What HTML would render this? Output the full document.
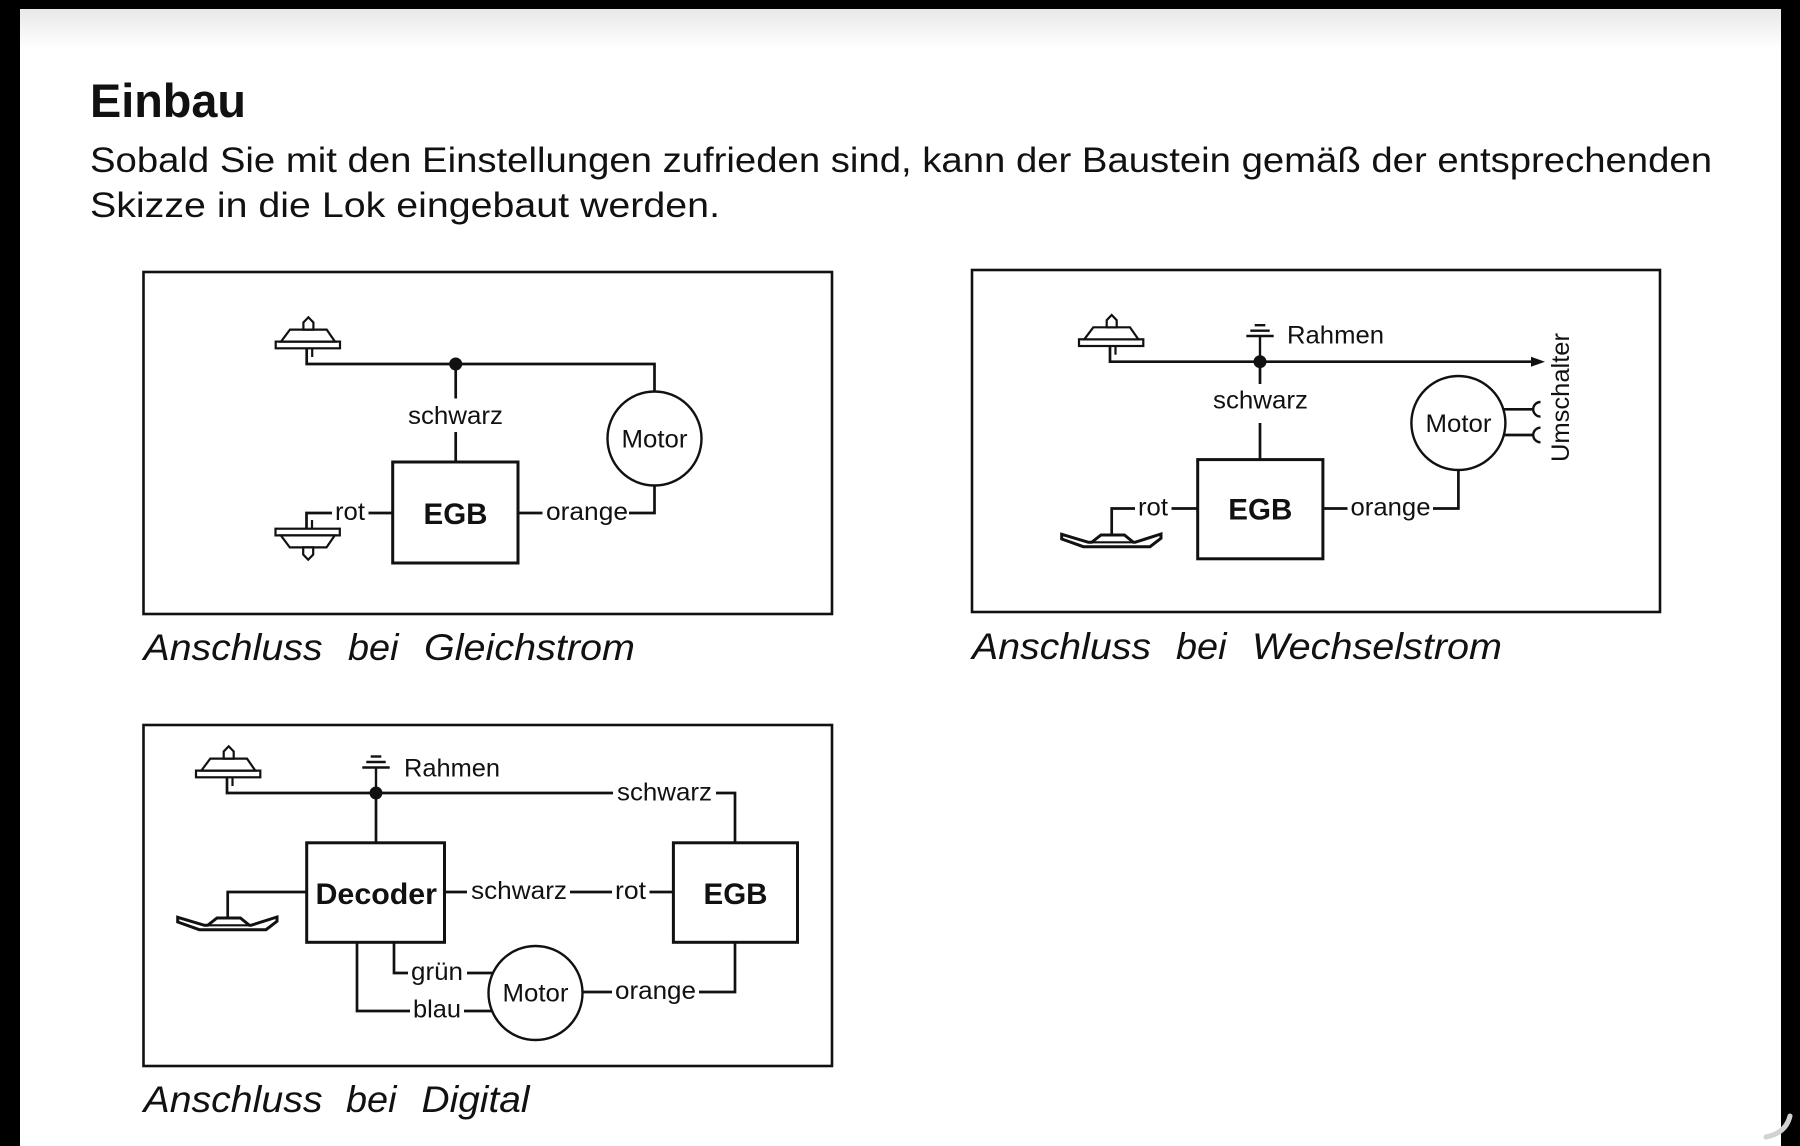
<!DOCTYPE html>
<html><head><meta charset="utf-8"><title>Einbau</title><style>
html,body{margin:0;padding:0;background:#000;}
svg{display:block;}
text{font-family:"Liberation Sans",Arial,sans-serif;fill:#111;}
.w{fill:none;stroke:#111;stroke-width:2.7;stroke-linejoin:miter;}
.b{fill:none;stroke:#111;stroke-width:3;}
.s{fill:#fff;stroke:#111;stroke-width:2.2;stroke-linejoin:miter;}
.k{fill:#fff;stroke:#111;stroke-width:3;stroke-linejoin:miter;}
.l{font-size:25px;}
.bold{font-size:30px;font-weight:bold;}
.cap{font-size:37px;font-style:italic;}
</style></head><body>
<svg width="1800" height="1146" viewBox="0 0 1800 1146" xmlns="http://www.w3.org/2000/svg">
<defs>
<linearGradient id="g" x1="0" y1="0" x2="0" y2="1"><stop offset="0" stop-color="#e8e8e8"/><stop offset="1" stop-color="#ffffff"/></linearGradient>
</defs>
<rect width="1800" height="1146" fill="#000"/>
<rect x="20" y="9" width="1761" height="1137" fill="#fff"/>
<rect x="20" y="9" width="1761" height="40" fill="url(#g)"/>
<path d="M1766,1137 Q1786,1133 1790,1116" fill="none" stroke="#d2d2d2" stroke-width="5" stroke-linecap="round"/>

<!-- Header -->
<text x="90" y="117" font-size="47" font-weight="bold" textLength="156" lengthAdjust="spacingAndGlyphs">Einbau</text>
<text x="90" y="172" font-size="35" textLength="1622" lengthAdjust="spacingAndGlyphs">Sobald Sie mit den Einstellungen zufrieden sind, kann der Baustein gemäß der entsprechenden</text>
<text x="90" y="217" font-size="35" textLength="630" lengthAdjust="spacingAndGlyphs">Skizze in die Lok eingebaut werden.</text>

<!-- ============ Frame 1: Gleichstrom ============ -->
<rect x="143.5" y="272" width="688.5" height="342" fill="none" stroke="#111" stroke-width="2.6"/>
<g transform="translate(306.7,364)">
  <rect class="s" x="-31" y="-22.4" width="64.3" height="6.7"/>
  <polygon class="s" points="-25.7,-22.4 -16.7,-34.4 20,-34.4 28.3,-22.4"/>
  <polygon class="s" points="-3.3,-34.4 -3.3,-41.5 1.7,-46.7 6.7,-41.5 6.7,-34.4" stroke-width="2"/>
  <line x1="5.5" y1="-15.7" x2="5.5" y2="-7" stroke="#111" stroke-width="2.2"/>
</g>
<path class="w" d="M306.7,348 V364 H654.5 V391.5"/>
<circle cx="455.7" cy="364" r="6.5" fill="#111"/>
<path class="w" d="M455.7,364 V398.5 M455.7,432 V462"/>
<text class="l" x="408" y="424" textLength="95" lengthAdjust="spacingAndGlyphs">schwarz</text>
<rect class="b" x="392.7" y="462" width="125.3" height="101"/>
<text class="bold" x="423.5" y="524" textLength="64" lengthAdjust="spacingAndGlyphs">EGB</text>
<g transform="translate(306.5,513) scale(1,-1)">
  <rect class="s" x="-31" y="-22.4" width="64.3" height="6.7"/>
  <polygon class="s" points="-25.7,-22.4 -16.7,-34.4 20,-34.4 28.3,-22.4"/>
  <polygon class="s" points="-3.3,-34.4 -3.3,-41.5 1.7,-46.7 6.7,-41.5 6.7,-34.4" stroke-width="2"/>
  <line x1="5.5" y1="-15.7" x2="5.5" y2="-7" stroke="#111" stroke-width="2.2"/>
</g>
<path class="w" d="M306.5,529 V513 H332 M368.5,513 H392.7"/>
<text class="l" x="335" y="520" textLength="30" lengthAdjust="spacingAndGlyphs">rot</text>
<path class="w" d="M518,513 H542.5 M629,513 H654.5 V485.5"/>
<text class="l" x="546" y="520" textLength="82" lengthAdjust="spacingAndGlyphs">orange</text>
<circle cx="654.5" cy="438.5" r="47" fill="#fff" stroke="#111" stroke-width="2.4"/>
<text class="l" x="621.5" y="447.5" textLength="66" lengthAdjust="spacingAndGlyphs">Motor</text>

<text class="cap" x="143.5" y="660" textLength="179" lengthAdjust="spacingAndGlyphs">Anschluss</text>
<text class="cap" x="348" y="660" textLength="50.5" lengthAdjust="spacingAndGlyphs">bei</text>
<text class="cap" x="424" y="660" textLength="211" lengthAdjust="spacingAndGlyphs">Gleichstrom</text>

<!-- ============ Frame 2: Wechselstrom ============ -->
<rect x="972" y="270" width="688" height="342" fill="none" stroke="#111" stroke-width="2.6"/>
<g transform="translate(1110,361.7)">
  <rect class="s" x="-31" y="-22.4" width="64.3" height="6.7"/>
  <polygon class="s" points="-25.7,-22.4 -16.7,-34.4 20,-34.4 28.3,-22.4"/>
  <polygon class="s" points="-3.3,-34.4 -3.3,-41.5 1.7,-46.7 6.7,-41.5 6.7,-34.4" stroke-width="2"/>
  <line x1="5.5" y1="-15.7" x2="5.5" y2="-7" stroke="#111" stroke-width="2.2"/>
</g>
<path class="w" d="M1110,346 V361.7 H1532"/>
<polygon points="1545,361.7 1531,356.7 1531,366.7" fill="#111"/>
<g stroke="#111" stroke-width="2.4">
  <line x1="1260" y1="361.7" x2="1260" y2="336"/>
  <line x1="1246.3" y1="336" x2="1273.7" y2="336"/>
  <line x1="1250.3" y1="330.7" x2="1269.7" y2="330.7"/>
  <line x1="1254.7" y1="325.2" x2="1265.3" y2="325.2"/>
</g>
<text class="l" x="1287" y="343.5" textLength="97" lengthAdjust="spacingAndGlyphs">Rahmen</text>
<circle cx="1260" cy="361.7" r="6.5" fill="#111"/>
<path class="w" d="M1260,361.7 V384 M1260,423 V459.6"/>
<text class="l" x="1213" y="408.5" textLength="95" lengthAdjust="spacingAndGlyphs">schwarz</text>
<rect class="b" x="1197.7" y="459.6" width="125.2" height="99.2"/>
<text class="bold" x="1228.3" y="519.5" textLength="64" lengthAdjust="spacingAndGlyphs">EGB</text>
<path class="w" d="M1111.7,535 V508.5 H1135 M1171.5,508.5 H1197.7"/>
<g transform="translate(1111.7,535)">
  <polygon class="k" points="-50,-0.7 -23.3,7.3 -20,7.3 -10.7,0 12.7,0 21.7,7.3 23.3,7.3 49.3,-1 49.3,3.3 38.3,11.7 -28.3,11.7 -50,4"/>
  <line x1="-23" y1="7.3" x2="23" y2="7.3" stroke="#111" stroke-width="2.2"/>
</g>
<text class="l" x="1138" y="515.5" textLength="30" lengthAdjust="spacingAndGlyphs">rot</text>
<path class="w" d="M1323,508.5 H1347.5 M1433,508.5 H1458.4 V470"/>
<text class="l" x="1350.5" y="515.5" textLength="80" lengthAdjust="spacingAndGlyphs">orange</text>
<circle cx="1458.4" cy="423" r="47" fill="#fff" stroke="#111" stroke-width="2.4"/>
<text class="l" x="1425.5" y="432" textLength="66" lengthAdjust="spacingAndGlyphs">Motor</text>
<path class="w" d="M1503.5,409.3 H1533 M1503.8,435 H1533"/>
<path d="M1540.5,402 A7.3,7.3 0 0 0 1540.5,416.6 M1540.5,427.7 A7.3,7.3 0 0 0 1540.5,442.3" fill="none" stroke="#111" stroke-width="2.4"/>
<text class="l" transform="translate(1569,462) rotate(-90)" x="0" y="0" textLength="129" lengthAdjust="spacingAndGlyphs">Umschalter</text>

<text class="cap" x="972" y="659" textLength="179" lengthAdjust="spacingAndGlyphs">Anschluss</text>
<text class="cap" x="1176" y="659" textLength="50.5" lengthAdjust="spacingAndGlyphs">bei</text>
<text class="cap" x="1252" y="659" textLength="250" lengthAdjust="spacingAndGlyphs">Wechselstrom</text>

<!-- ============ Frame 3: Digital ============ -->
<rect x="143.5" y="725" width="688.5" height="341" fill="none" stroke="#111" stroke-width="2.6"/>
<g transform="translate(227,793)">
  <rect class="s" x="-31" y="-22.4" width="64.3" height="6.7"/>
  <polygon class="s" points="-25.7,-22.4 -16.7,-34.4 20,-34.4 28.3,-22.4"/>
  <polygon class="s" points="-3.3,-34.4 -3.3,-41.5 1.7,-46.7 6.7,-41.5 6.7,-34.4" stroke-width="2"/>
  <line x1="5.5" y1="-15.7" x2="5.5" y2="-7" stroke="#111" stroke-width="2.2"/>
</g>
<path class="w" d="M227,777 V793 H613 M716,793 H735 V842.8"/>
<g stroke="#111" stroke-width="2.4">
  <line x1="376" y1="793" x2="376" y2="767.5"/>
  <line x1="362.3" y1="767.5" x2="389.7" y2="767.5"/>
  <line x1="366.3" y1="762" x2="385.7" y2="762"/>
  <line x1="370.7" y1="756.5" x2="381.3" y2="756.5"/>
</g>
<text class="l" x="404" y="776.5" textLength="96" lengthAdjust="spacingAndGlyphs">Rahmen</text>
<circle cx="376" cy="793" r="6.5" fill="#111"/>
<text class="l" x="617" y="800.5" textLength="95" lengthAdjust="spacingAndGlyphs">schwarz</text>
<path class="w" d="M376,793 V842.8"/>
<rect class="b" x="306.7" y="842.8" width="137.8" height="99.5"/>
<text class="bold" x="315.5" y="904" textLength="121.5" lengthAdjust="spacingAndGlyphs">Decoder</text>
<path class="w" d="M227.7,918 V892 H306.7"/>
<g transform="translate(227.7,918)">
  <polygon class="k" points="-50,-0.7 -23.3,7.3 -20,7.3 -10.7,0 12.7,0 21.7,7.3 23.3,7.3 49.3,-1 49.3,3.3 38.3,11.7 -28.3,11.7 -50,4"/>
  <line x1="-23" y1="7.3" x2="23" y2="7.3" stroke="#111" stroke-width="2.2"/>
</g>
<path class="w" d="M444.5,892 H467 M570,892 H612 M649.5,892 H673.4"/>
<text class="l" x="471" y="899" textLength="96" lengthAdjust="spacingAndGlyphs">schwarz</text>
<text class="l" x="615" y="899" textLength="31" lengthAdjust="spacingAndGlyphs">rot</text>
<rect class="b" x="673.4" y="842.8" width="124.1" height="99.5"/>
<text class="bold" x="703.5" y="904" textLength="64" lengthAdjust="spacingAndGlyphs">EGB</text>
<path class="w" d="M394,942.3 V973 H408 M467,973 H493"/>
<path class="w" d="M357,942.3 V1011 H410 M464,1011 H492"/>
<text class="l" x="411" y="980" textLength="52" lengthAdjust="spacingAndGlyphs">grün</text>
<text class="l" x="413" y="1017.5" textLength="48" lengthAdjust="spacingAndGlyphs">blau</text>
<circle cx="535.5" cy="993" r="47" fill="#fff" stroke="#111" stroke-width="2.4"/>
<text class="l" x="502.5" y="1001.5" textLength="66" lengthAdjust="spacingAndGlyphs">Motor</text>
<path class="w" d="M582.5,992 H612 M699,992 H735 V942.3"/>
<text class="l" x="615" y="999" textLength="81" lengthAdjust="spacingAndGlyphs">orange</text>

<text class="cap" x="143.5" y="1112" textLength="179" lengthAdjust="spacingAndGlyphs">Anschluss</text>
<text class="cap" x="346" y="1112" textLength="50.5" lengthAdjust="spacingAndGlyphs">bei</text>
<text class="cap" x="421.5" y="1112" textLength="108" lengthAdjust="spacingAndGlyphs">Digital</text>
</svg>
</body></html>
